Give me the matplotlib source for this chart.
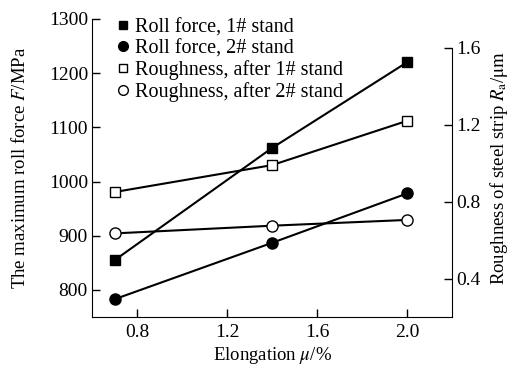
import matplotlib
matplotlib.use("Agg")
import matplotlib.pyplot as plt
from matplotlib.lines import Line2D

plt.rcParams['font.family'] = ['Liberation Serif', 'DejaVu Serif']
plt.rcParams['mathtext.fontset'] = 'stix'
plt.rcParams['font.size'] = 11

elong = [0.7, 1.4, 2.0]
force_1 = [855, 1062, 1220]
force_2 = [783, 887, 978]
rough_1 = [0.85, 0.99, 1.22]
rough_2 = [0.635, 0.675, 0.705]

fig = plt.figure(figsize=(5.12, 3.70), dpi=100)
ax = fig.add_axes([0.180, 0.143, 0.703, 0.806])
ax2 = ax.twinx()

ms = 7
ax.plot(elong, force_1, '-s', color='black', mfc='black', ms=ms, lw=1.5)
ax.plot(elong, force_2, '-o', color='black', mfc='black', ms=ms + 1, lw=1.5)
ax2.plot(elong, rough_1, '-s', color='black', mfc='white', ms=ms, lw=1.5)
ax2.plot(elong, rough_2, '-o', color='black', mfc='white', ms=ms + 1, lw=1.5)

ax.set_xlim(0.6, 2.2)
ax.set_ylim(750, 1300)
ax2.set_ylim(0.2, 1.75)
ax.set_xticks([0.8, 1.2, 1.6, 2.0])
ax.set_yticks([800, 900, 1000, 1100, 1200, 1300])
ax2.set_yticks([0.4, 0.8, 1.2, 1.6])
ax.xaxis.set_major_formatter(plt.FormatStrFormatter('%.1f'))
ax2.yaxis.set_major_formatter(plt.FormatStrFormatter('%.1f'))

for a in (ax, ax2):
    a.spines['top'].set_visible(False)
    a.tick_params(direction='in', length=6, width=1, labelsize=14, pad=3)
ax.spines['right'].set_visible(False)
ax2.spines['left'].set_visible(False)
ax2.spines['bottom'].set_visible(False)
ax2.spines['right'].set_bounds(0.2, 1.6)
ax.tick_params(axis='x', pad=5)

ax.set_xlabel(r'Elongation $\mu$/%', fontsize=13.5, labelpad=3)
ax.set_ylabel(r'The maximum roll force $F$/MPa', fontsize=13.5, labelpad=14)
ax2.set_ylabel(r'Roughness of steel strip $R_\mathrm{a}$/$\mathrm{\mu m}$',
               fontsize=13.5, labelpad=5)

handles = [
    Line2D([], [], ls='none', marker='s', color='black', mfc='black', ms=6),
    Line2D([], [], ls='none', marker='o', color='black', mfc='black', ms=7),
    Line2D([], [], ls='none', marker='s', color='black', mfc='white', ms=6),
    Line2D([], [], ls='none', marker='o', color='black', mfc='white', ms=7),
]
labels = ['Roll force, 1# stand', 'Roll force, 2# stand',
          'Roughness, after 1# stand', 'Roughness, after 2# stand']
ax2.legend(handles, labels, loc='upper left', bbox_to_anchor=(0.03, 1.05),
           frameon=False, fontsize=14.5, handlelength=0.6, handletextpad=0.3,
           labelspacing=0.1, borderpad=0.2)

fig.savefig('out.png', dpi=100)
